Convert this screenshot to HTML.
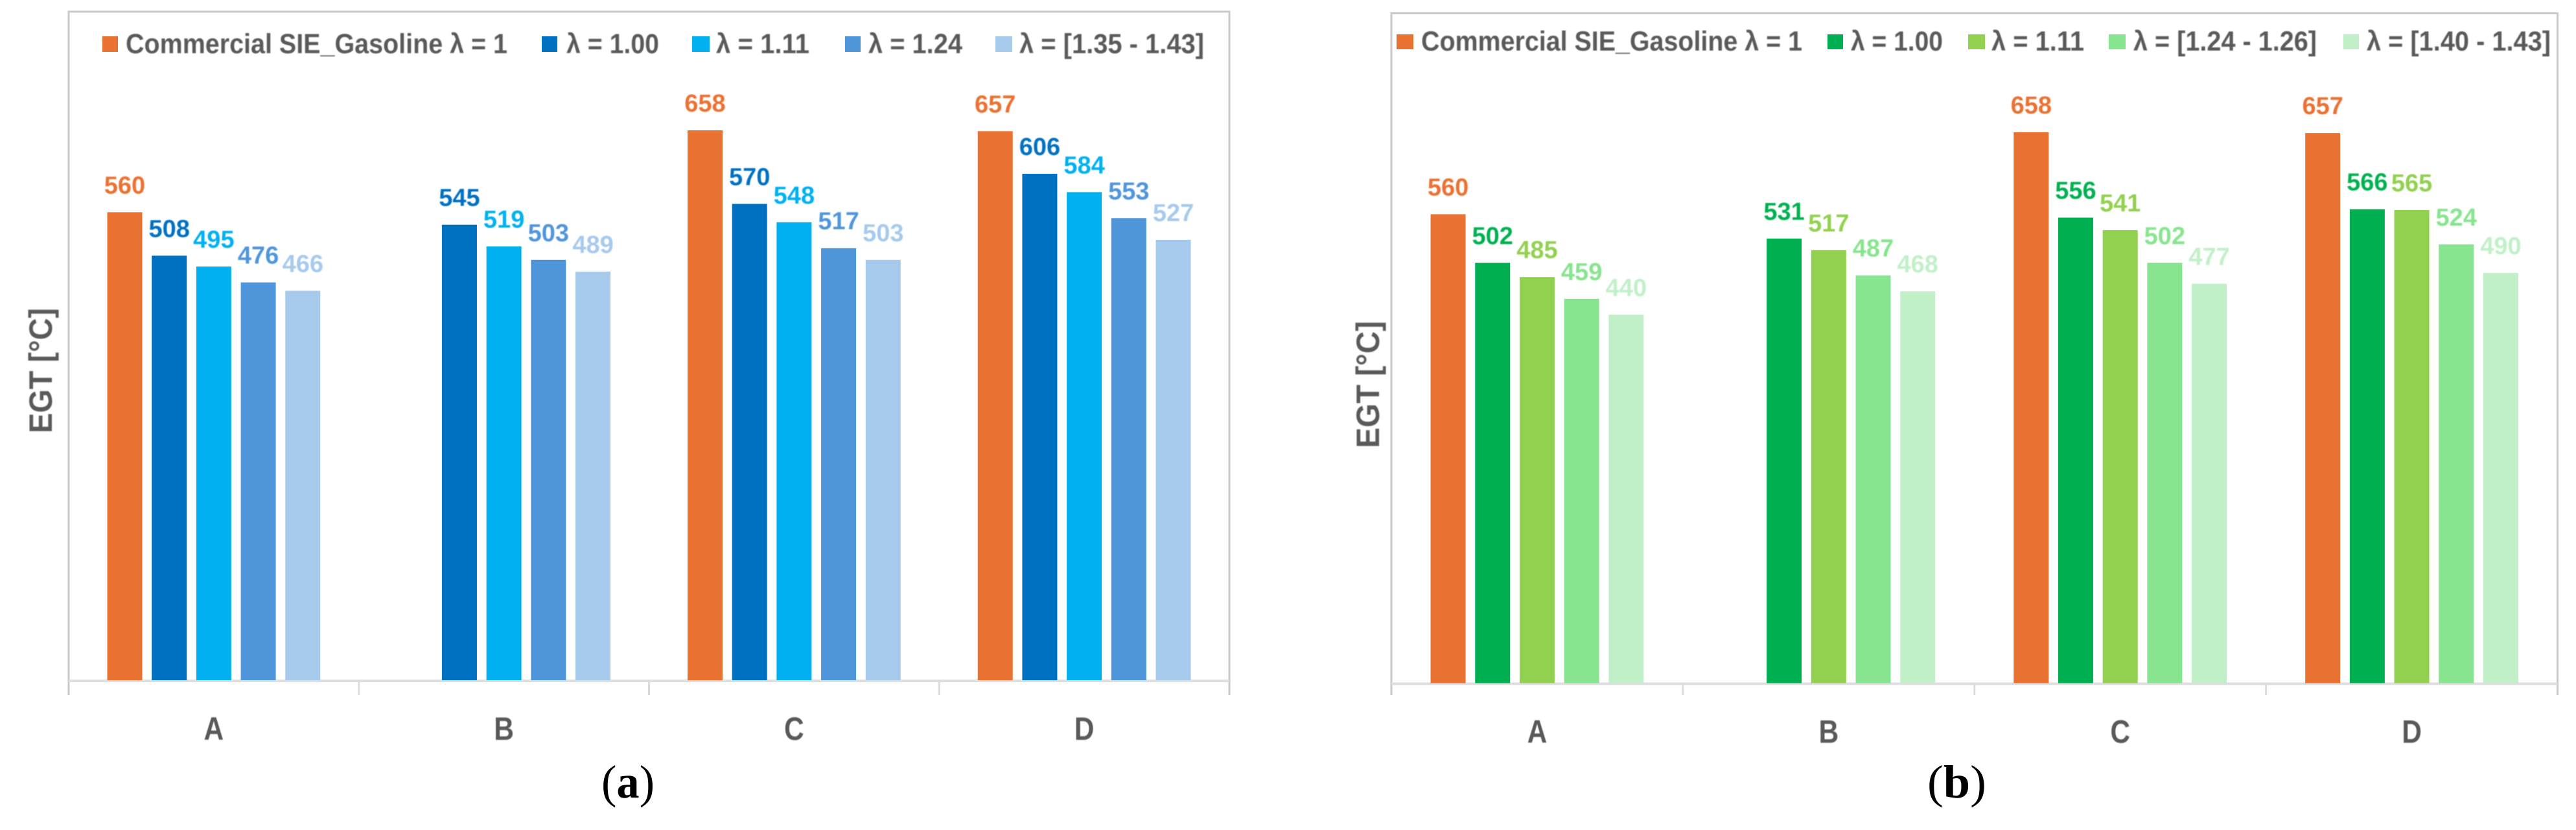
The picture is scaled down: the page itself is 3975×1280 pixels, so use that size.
<!DOCTYPE html>
<html lang="en">
<head>
<meta charset="utf-8">
<title>EGT charts</title>
<style>
html,body{margin:0;padding:0;background:#fff;}
svg{display:block;}
text{font-family:"Liberation Sans","DejaVu Sans",sans-serif;filter:blur(.7px);}
.legend-text{font-size:43px;font-weight:700;fill:#595959;}
.axis-title{font-size:50px;font-weight:700;fill:#595959;}
.caption{font-family:"Liberation Serif","DejaVu Serif",serif;font-size:72px;fill:#000;filter:none;}
.frame{stroke:#c9c9c9;stroke-width:3;fill:none;}
</style>
</head>
<body>
<svg id="figure" xmlns="http://www.w3.org/2000/svg" width="3975" height="1280" viewBox="0 0 3975 1280">
  <rect x="0" y="0" width="3975" height="1280" fill="#fff"/>

  <g id="chart-a">
    <path class="frame" d="M106 1072V18H1897V1072"/>
    <text class="axis-title" transform="translate(80,668) rotate(-90)" textLength="193" lengthAdjust="spacingAndGlyphs">EGT [°C]</text>
    <g>
      <rect x="158" y="56" width="24" height="24" fill="#E97132"/>
      <text class="legend-text" x="194" y="82" textLength="589" lengthAdjust="spacingAndGlyphs">Commercial SIE_Gasoline λ = 1</text>
      <rect x="836" y="56" width="24" height="24" fill="#0070C0"/>
      <text class="legend-text" x="874" y="82" textLength="143" lengthAdjust="spacingAndGlyphs">λ = 1.00</text>
      <rect x="1068" y="56" width="27" height="24" fill="#00B0F0"/>
      <text class="legend-text" x="1105" y="82" textLength="144" lengthAdjust="spacingAndGlyphs">λ = 1.11</text>
      <rect x="1304" y="56" width="24" height="24" fill="#4E95D9"/>
      <text class="legend-text" x="1340" y="82" textLength="145" lengthAdjust="spacingAndGlyphs">λ = 1.24</text>
      <rect x="1536" y="56" width="26" height="24" fill="#A6CAEC"/>
      <text class="legend-text" x="1573" y="82" textLength="285" lengthAdjust="spacingAndGlyphs">λ = [1.35 - 1.43]</text>
    </g>
    <g id="plot-a"></g>
  </g>

  <g id="chart-b">
    <path class="frame" d="M2147 1072V20.5H3946.5V1072"/>
    <text class="axis-title" transform="translate(2128,691) rotate(-90)" textLength="196" lengthAdjust="spacingAndGlyphs">EGT [°C]</text>
    <g>
      <rect x="2155" y="53" width="26" height="23" fill="#E97132"/>
      <text class="legend-text" x="2193" y="78" textLength="588" lengthAdjust="spacingAndGlyphs">Commercial SIE_Gasoline λ = 1</text>
      <rect x="2820" y="53" width="24" height="23" fill="#00B050"/>
      <text class="legend-text" x="2856" y="78" textLength="142" lengthAdjust="spacingAndGlyphs">λ = 1.00</text>
      <rect x="3037" y="53" width="26" height="23" fill="#92D050"/>
      <text class="legend-text" x="3073" y="78" textLength="143" lengthAdjust="spacingAndGlyphs">λ = 1.11</text>
      <rect x="3254" y="53" width="26" height="23" fill="#87E48F"/>
      <text class="legend-text" x="3292" y="78" textLength="283" lengthAdjust="spacingAndGlyphs">λ = [1.24 - 1.26]</text>
      <rect x="3616" y="53" width="24" height="23" fill="#C1F0C8"/>
      <text class="legend-text" x="3652" y="78" textLength="284" lengthAdjust="spacingAndGlyphs">λ = [1.40 - 1.43]</text>
    </g>
    <g id="plot-b"></g>
  </g>

  <g class="caption-group">
    <text class="caption" x="928" y="1230" textLength="82" lengthAdjust="spacingAndGlyphs">(<tspan font-weight="700">a</tspan>)</text>
  </g>
  <g class="caption-group">
    <text class="caption" x="2974" y="1230" textLength="91" lengthAdjust="spacingAndGlyphs">(<tspan font-weight="700">b</tspan>)</text>
  </g>
</svg>

<script>
const categories = ['A', 'B', 'C', 'D'];
const yMax = 800;

const aCommercial = [560, null, 658, 657];
const aLambda100 = [508, 545, 570, 606];
const aLambda111 = [495, 519, 548, 584];
const aLambda124 = [476, 503, 517, 553];
const aLambda135 = [466, 489, 503, 527];

const bCommercial = [560, null, 658, 657];
const bLambda100 = [502, 531, 556, 566];
const bLambda111 = [485, 517, 541, 565];
const bLambda124 = [459, 487, 502, 524];
const bLambda140 = [440, 468, 477, 490];

const aColors = ['#E97132', '#0070C0', '#00B0F0', '#4E95D9', '#A6CAEC'];
const bColors = ['#E97132', '#00B050', '#92D050', '#87E48F', '#C1F0C8'];

const SVG_NS = 'http://www.w3.org/2000/svg';

function make(tag, attrs, parent) {
  const el = document.createElementNS(SVG_NS, tag);
  for (const k in attrs) el.setAttribute(k, attrs[k]);
  parent.appendChild(el);
  return el;
}

function drawChart(plotId, series, colors, left, right, top, base) {
  const plot = document.getElementById(plotId);
  const pitch = 68.7;
  const barWidth = 54;
  const step = (right - left) / categories.length;
  const xGroup = function (i) { return left + (i + 0.5) * step; };
  const xBar = function (i, j) { return xGroup(i) + (j - (series.length - 1) / 2) * pitch; };
  const yVal = function (v) { return base - v / yMax * (base - top); };

  const axis = make('line', { x1: left, x2: right, y1: base + 1, y2: base + 1, stroke: '#dedede', 'stroke-width': 4 }, plot);
  
  

  for (let i = 1; i < categories.length; i++) {
    const tick = make('line', { x1: left + i * step, x2: left + i * step, y1: base, y2: 1072, stroke: '#dcdcdc', 'stroke-width': 3 }, plot);
    
    
  }

  categories.forEach(function (cat, i) {
    const lab = make('text', {
      transform: 'translate(' + xGroup(i) + ',' + (base + 92) + ') scale(0.85,1)',
      'text-anchor': 'middle', 'font-size': 50, 'font-weight': 700, fill: '#595959'
    }, plot);
    lab.textContent = cat;
    
    

    series.forEach(function (values, j) {
      const v = values[i];
      if (v === null) return;
      const cx = xBar(i, j);
      const y = yVal(v);
      const bar = make('rect', { x: cx - barWidth / 2, y: y, width: barWidth, height: base - y, fill: colors[j] }, plot);
      
      
      const val = make('text', {
        x: cx, y: y - 29, 'text-anchor': 'middle', 'font-size': 38, 'font-weight': 700, fill: colors[j]
      }, plot);
      val.textContent = String(v);
      
      
    });
  });
}

drawChart('plot-a', [aCommercial, aLambda100, aLambda111, aLambda124, aLambda135], aColors, 106, 1897, 18, 1049);
drawChart('plot-b', [bCommercial, bLambda100, bLambda111, bLambda124, bLambda140], bColors, 2147, 3946.5, 20.5, 1053.5);
</script>
</body>
</html>
